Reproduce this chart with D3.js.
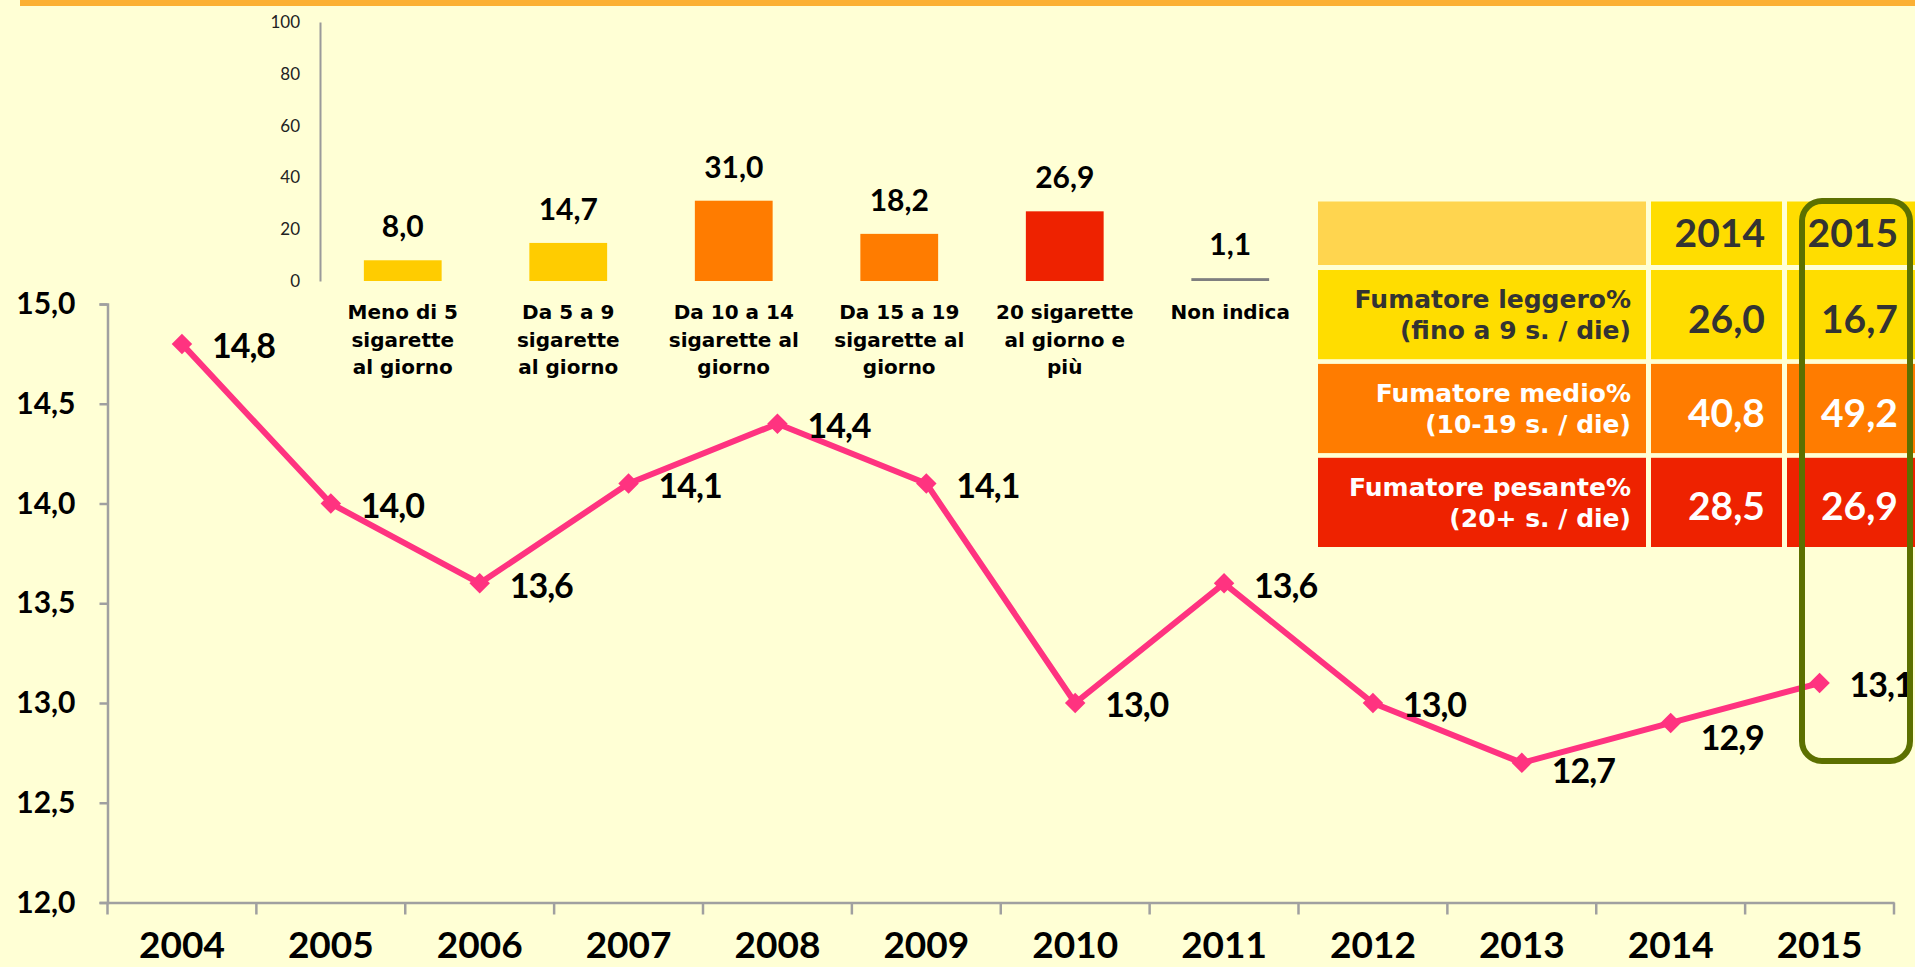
<!DOCTYPE html>
<html><head><meta charset="utf-8">
<script src="https://cdn.jsdelivr.net/npm/d3@7"></script>
<style>
html,body{margin:0;padding:0;background:#FFFFD5;overflow:hidden}
text{font-family:Lato,"DejaVu Sans",sans-serif}
</style></head>
<body>
<svg id="chart" width="1915" height="967"></svg>
<script>
// ---------- DATA ----------
const years = ["2004","2005","2006","2007","2008","2009","2010","2011","2012","2013","2014","2015"];
const avgCigs = [14.8,14.0,13.6,14.1,14.4,14.1,13.0,13.6,13.0,12.7,12.9,13.1];
const yTicks = [12.0,12.5,13.0,13.5,14.0,14.5,15.0];

const barCats = [
  ["Meno di 5","sigarette","al giorno"],
  ["Da 5 a 9","sigarette","al giorno"],
  ["Da 10 a 14","sigarette al","giorno"],
  ["Da 15 a 19","sigarette al","giorno"],
  ["20 sigarette","al giorno e","più"],
  ["Non indica"]
];
const barValues = [8.0,14.7,31.0,18.2,26.9,1.1];
const barColors = ["#FFCC00","#FFCC00","#FF7C00","#FF7C00","#EE2200","#7F7F7F"];
const barTicks = [0,20,40,60,80,100];

const tableYears = ["2014","2015"];
const tableRowTitles = ["Fumatore leggero%","Fumatore medio%","Fumatore pesante%"];
const tableRowSubs = ["(fino a 9 s. / die)","(10-19 s. / die)","(20+ s. / die)"];
const table2014 = [26.0,40.8,28.5];
const table2015 = [16.7,49.2,26.9];
const tableRowColors = ["#FFDD00","#FF7C00","#EE2200"];
const tableTextColors = ["#333333","#FFFFFF","#FFFFFF"];

// ---------- HELPERS ----------
const it = d3.formatLocale({decimal:",",thousands:".",grouping:[3],currency:["€",""]});
const f1 = it.format(".1f");
const svg = d3.select("#chart");
const WIDE = "'DejaVu Sans',sans-serif";

// background + top strip
svg.append("rect").attr("width",1915).attr("height",967).attr("fill","#FFFFD5");
svg.append("rect").attr("x",20).attr("y",0).attr("width",1895).attr("height",6).attr("fill","#FBB034");

// ---------- LINE CHART ----------
const x = d3.scaleBand().domain(years).range([107.5,1894]).padding(0);
const y = d3.scaleLinear().domain([12,15]).range([902.5,304]);

const gy = svg.append("g").attr("transform","translate(107.5,0)")
  .call(d3.axisLeft(y).tickValues(yTicks).tickFormat(f1).tickSize(8).tickPadding(24));
gy.select(".domain").attr("stroke","#A0A0A0").attr("stroke-width",2.5);
gy.selectAll(".tick line").attr("stroke","#A0A0A0").attr("stroke-width",2.5);
gy.selectAll(".tick text").attr("font-size",30).attr("font-weight",700).attr("fill","#000");

const gx = svg.append("g").attr("transform","translate(0,902.5)")
  .call(d3.axisBottom(x).tickSize(0).tickPadding(29));
gx.select(".domain").attr("stroke","#A0A0A0").attr("stroke-width",2.5);
gx.selectAll(".tick text").attr("font-size",37).attr("font-weight",700).attr("fill","#000");
// category separator ticks
gx.selectAll("line.sep").data(years.concat(["end"])).enter().append("line")
  .attr("class","sep")
  .attr("x1",(d,i)=> i<years.length ? x(d) : x(years[years.length-1])+x.bandwidth())
  .attr("x2",(d,i)=> i<years.length ? x(d) : x(years[years.length-1])+x.bandwidth())
  .attr("y1",0).attr("y2",12).attr("stroke","#A0A0A0").attr("stroke-width",2.5);

const pts = years.map((yr,i)=>({yr, v:avgCigs[i], i}));
const line = d3.line().x(d=>x(d.yr)+x.bandwidth()/2).y(d=>y(d.v));
svg.append("path").datum(pts).attr("d",line).attr("fill","none")
  .attr("stroke","#FF3380").attr("stroke-width",6).attr("stroke-linejoin","round");
const sym = d3.symbol().type(d3.symbolSquare).size(210);
svg.selectAll("path.mk").data(pts).enter().append("path").attr("class","mk")
  .attr("d",sym())
  .attr("transform",d=>`translate(${x(d.yr)+x.bandwidth()/2},${y(d.v)}) rotate(45)`)
  .attr("fill","#FF3380");
const labelNudge = {9:8, 10:15};
svg.selectAll("text.dl").data(pts).enter().append("text").attr("class","dl")
  .attr("x",d=>x(d.yr)+x.bandwidth()/2+30)
  .attr("y",d=>y(d.v)+(labelNudge[d.i]||2))
  .attr("dy","0.36em")
  .attr("font-size",34).attr("font-weight",700).attr("fill","#000").attr("letter-spacing",-1)
  .text(d=>f1(d.v));

// ---------- BAR CHART (inset) ----------
const bx = d3.scaleBand().domain(d3.range(barValues.length)).range([320,1313]).paddingInner(0.53).paddingOuter(0.265);
const by = d3.scaleLinear().domain([0,100]).range([281,22]);
const gby = svg.append("g").attr("transform","translate(320,0)")
  .call(d3.axisLeft(by).tickValues(barTicks).tickSize(0).tickPadding(20));
gby.select(".domain").attr("stroke","#9A9A9A").attr("stroke-width",2);
gby.selectAll(".tick text").attr("font-size",17).attr("font-weight",400).attr("fill","#222");

svg.selectAll("rect.bar").data(barValues).enter().append("rect").attr("class","bar")
  .attr("x",(d,i)=>bx(i)).attr("width",bx.bandwidth())
  .attr("y",d=>by(d)).attr("height",d=>by(0)-by(d))
  .attr("fill",(d,i)=>barColors[i]);
svg.selectAll("text.bv").data(barValues).enter().append("text").attr("class","bv")
  .attr("x",(d,i)=>bx(i)+bx.bandwidth()/2).attr("y",d=>by(d)-23)
  .attr("text-anchor","middle").attr("font-size",30).attr("font-weight",700).attr("fill","#000")
  .text(d=>f1(d));
barCats.forEach((lines,i)=>{
  const t = svg.append("text").attr("x",bx(i)+bx.bandwidth()/2).attr("y",319)
    .attr("text-anchor","middle").style("font-family",WIDE).attr("font-size",20).attr("font-weight",700).attr("fill","#000");
  lines.forEach((ln,j)=>t.append("tspan").attr("x",bx(i)+bx.bandwidth()/2).attr("y",319+j*27.5).text(ln));
});

// ---------- TABLE ----------
const colX = [1318,1651,1787], colW = [328,131,128];
const headerY = 201.5, headerH = 63.5;
const ry = d3.scaleBand().domain(d3.range(tableRowTitles.length)).range([270,547]).paddingInner(0.05);
// header
svg.append("rect").attr("x",colX[0]).attr("y",headerY).attr("width",colW[0]).attr("height",headerH).attr("fill","#FFD54F");
tableYears.forEach((yr,k)=>{
  svg.append("rect").attr("x",colX[k+1]).attr("y",headerY).attr("width",colW[k+1]).attr("height",headerH).attr("fill","#FFDD00");
  svg.append("text").attr("x",colX[k+1]+colW[k+1]-17).attr("y",headerY+headerH/2).attr("dy","0.36em")
    .attr("text-anchor","end").attr("font-size",39).attr("font-weight",700).attr("fill","#333").text(yr);
});
tableRowTitles.forEach((ttl,r)=>{
  const y0 = ry(r), h = ry.bandwidth();
  [0,1,2].forEach(c=>{
    svg.append("rect").attr("x",colX[c]).attr("y",y0).attr("width",colW[c]).attr("height",h).attr("fill",tableRowColors[r]);
  });
  const t = svg.append("text").attr("text-anchor","end").style("font-family",WIDE).attr("font-size",25).attr("font-weight",700).attr("fill",tableTextColors[r]);
  t.append("tspan").attr("x",colX[0]+colW[0]-15).attr("y",y0+h/2-15.5).attr("dy","0.36em").text(ttl);
  t.append("tspan").attr("x",colX[0]+colW[0]-15).attr("y",y0+h/2+15.5).attr("dy","0.36em").text(tableRowSubs[r]);
  [table2014[r],table2015[r]].forEach((v,k)=>{
    svg.append("text").attr("x",colX[k+1]+colW[k+1]-17).attr("y",y0+h/2+4).attr("dy","0.36em")
      .attr("text-anchor","end").attr("font-size",39).attr("font-weight",700).attr("fill",tableTextColors[r]).text(f1(v));
  });
});
// highlight box around 2015
svg.append("rect").attr("x",1802).attr("y",201).attr("width",108).attr("height",560).attr("rx",20).attr("ry",20)
  .attr("fill","none").attr("stroke","#5C7000").attr("stroke-width",6);
</script>
</body></html>
